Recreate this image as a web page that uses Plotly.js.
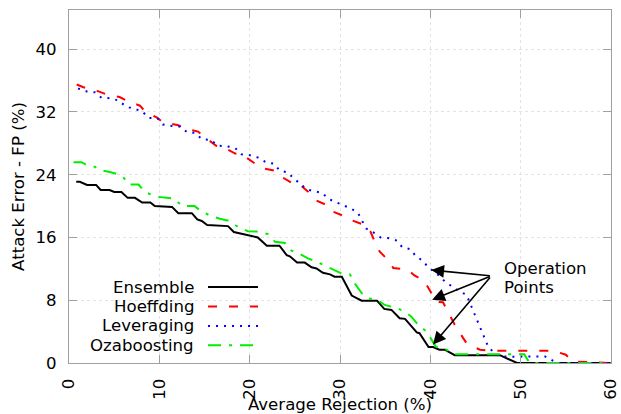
<!DOCTYPE html>
<html>
<head>
<meta charset="utf-8">
<script src="https://cdn.plot.ly/plotly-3.0.1.min.js"></script>
<style>html,body{margin:0;padding:0;background:#fff;}#chart{width:621px;height:414px;}</style>
</head>
<body>
<div id="chart"></div>
<script>
var seriesNames = ["Ensemble", "Hoeffding", "Leveraging", "Ozaboosting"];

var ensembleX = [0.8,1.2,2.0,3.0,3.5,4.5,5.0,5.8,6.5,7.3,8.1,9.0,9.5,11.4,12.1,13.6,14.2,14.7,15.3,17.6,18.25,19.1,20.0,20.9,21.9,23.3,24.1,24.45,25.25,26.1,26.85,27.4,28.1,28.9,29.4,30.2,31.3,31.6,32.4,34.1,34.9,35.7,36.6,37.2,37.9,38.5,38.8,39.8,40.3,41.0,41.6,42.7,47.7,49.2,49.6,60];
var ensembleY = [23.1,23.1,22.7,22.7,22.05,22.05,21.8,21.8,21.05,21.05,20.45,20.45,20.0,19.9,19.1,19.1,18.3,18.1,17.6,17.45,16.7,16.5,16.26,16.0,14.95,14.95,13.75,13.6,12.8,12.8,12.2,12.05,11.5,11.3,11.0,11.0,8.6,8.45,7.95,7.95,6.9,6.77,5.7,5.63,4.65,3.9,3.8,2.03,2.03,1.7,1.7,1.0,1.0,0.2,0,0];

var hoeffdingX = [0.85,1.6,3.2,4.0,5.6,6.4,7.85,8.4,9.7,10.4,12.1,12.8,14.3,15.0,16.3,17.1,18.4,19.1,20.5,21.2,22.8,23.3,24.6,25.4,26.7,27.2,28.6,29.1,30.5,31.3,32.7,33.4,34.0,34.4,35.5,35.9,37.5,38.2,39.3,39.8,40.7,41.4,42.1,42.7,43.4,44.0,44.7,45.5,46.6,53.6,55.0,55.8,60];
var hoeffdingY = [35.5,35.15,34.65,34.3,33.9,33.45,32.8,32.1,31.3,30.7,30.3,29.9,29.5,28.8,27.7,27.5,26.7,26.6,25.5,24.9,24.5,23.9,23.0,22.9,21.6,20.8,20.1,19.35,18.7,18.2,17.6,16.7,15.0,14.2,12.9,12.1,11.9,11.2,10.5,9.5,7.8,7.75,6.1,4.87,3.6,2.54,2.1,1.69,1.56,1.56,1.05,0.2,0];

var leveragingX = [1.0,2.0,2.9,3.6,4.6,5.5,6.3,7.2,8.1,8.8,9.8,10.4,11.4,12.3,13.1,13.9,14.75,15.7,16.5,17.4,18.4,19.1,20.0,20.9,21.8,22.7,23.3,24.2,24.9,25.55,26.3,27.1,28.0,28.75,29.6,30.45,31.3,32.0,32.5,32.9,33.7,34.5,35.4,36.3,36.9,37.8,38.4,39.1,39.7,40.3,41.0,41.6,42.5,43.25,44.0,44.4,44.8,45.2,45.65,46.0,46.4,46.9,47.7,49.0,50.6,51.7,52.7,53.4,54.0,60];
var leveragingY = [35.0,34.6,34.5,33.8,33.75,33.45,32.7,32.4,32.1,31.25,31.2,30.4,30.2,30.15,29.4,29.35,28.5,28.46,27.7,27.65,27.4,26.6,26.5,26.2,25.6,25.4,24.55,24.3,23.5,22.9,22.15,21.9,21.7,20.9,20.45,20.0,19.65,19.1,18.1,17.15,16.65,16.0,15.9,15.6,14.75,14.5,13.6,13.1,12.3,11.8,11.1,10.4,9.7,9.1,8.7,7.6,6.56,5.5,4.23,3.2,2.1,1.48,0.84,0.8,0.8,0.84,0.84,0.4,0,0];

var ozaboostingX = [0.5,1.4,2.0,2.9,3.1,3.8,4.5,5.3,6.0,6.6,7.7,8.4,9.7,10.6,11.7,12.5,13.9,14.7,15.8,16.7,17.8,18.7,19.8,20.8,22.0,22.8,23.9,24.6,25.4,26.5,27.5,28.3,29.35,30.2,31.1,31.6,32.4,33.1,34.2,34.95,36.25,37.2,37.9,38.7,39.6,40.1,40.6,41.8,42.7,48.8,50.4,51.0,60];
var ozaboostingY = [25.6,25.6,25.2,25.0,24.8,24.5,24.35,24.1,23.7,22.75,22.75,21.8,21.2,21.05,20.95,20.0,20.0,19.3,18.7,18.4,18.1,17.35,16.8,16.75,16.45,15.45,15.3,14.35,14.0,13.3,12.9,12.4,11.85,11.4,11.3,10.2,8.9,8.25,8.0,7.4,7.0,6.56,5.9,4.8,4.0,2.96,2.1,1.7,1.1,1.1,1.1,0,0];

var xTicks = [0,10,20,30,40,50,60];
var yTicks = [0,8,16,24,32,40];

// operation points: [x, y]
var opPointsX = [40.1, 40.2, 40.3];
var opPointsY = [11.85, 8.05, 2.35];
var opLabelX = 46.75, opLabelY = 11.1;
var opText = ["Operation", "Points"];

var colors = ["#000000", "#ff0000", "#0000ff", "#00ee00"];
var dashes = ["solid", "9px,12px", "2px,6px", "13px,8px,3px,8px"];
var widths = [2, 2, 2, 2];

var xs = [ensembleX, hoeffdingX, leveragingX, ozaboostingX];
var ys = [ensembleY, hoeffdingY, leveragingY, ozaboostingY];

var font = "DejaVu Sans, sans-serif";
var fs = 16.6;
var traces = [];
for (var i = 0; i < 4; i++) {
  traces.push({
    x: xs[i], y: ys[i], type: "scatter", mode: "lines", name: seriesNames[i],
    line: {color: colors[i], width: widths[i], dash: dashes[i]},
    showlegend: false, hoverinfo: "skip"
  });
}

var annotations = [];
var shapes = [];
// custom legend (gnuplot-style: text then sample)
var legY = [0.215, 0.160, 0.105, 0.050];
for (var i = 0; i < 4; i++) {
  annotations.push({
    xref: "paper", yref: "paper", x: 0.2343, y: legY[i], xanchor: "right", yanchor: "middle",
    text: seriesNames[i], showarrow: false, font: {family: font, size: fs, color: "#000"}
  });
  shapes.push({
    type: "line", xref: "paper", yref: "paper", x0: 0.2565, x1: 0.3487, y0: legY[i], y1: legY[i],
    line: {color: colors[i], width: widths[i], dash: dashes[i]}
  });
}
// arrows
for (var j = 0; j < opPointsX.length; j++) {
  annotations.push({
    x: opPointsX[j], y: opPointsY[j], xref: "x", yref: "y",
    ax: opLabelX, ay: opLabelY, axref: "x", ayref: "y",
    text: "", showarrow: true, arrowhead: 2, arrowsize: 1.6, arrowwidth: 1.6, arrowcolor: "#000",
    standoff: 0, startstandoff: 0
  });
}
annotations.push({
  x: 47.9, y: 12.0, xref: "x", yref: "y", xanchor: "left", yanchor: "middle",
  text: opText[0], showarrow: false, font: {family: font, size: fs, color: "#000"}
});
annotations.push({
  x: 47.9, y: 9.6, xref: "x", yref: "y", xanchor: "left", yanchor: "middle",
  text: opText[1], showarrow: false, font: {family: font, size: fs, color: "#000"}
});

var axisCommon = {
  showline: true, linecolor: "#a0a0a0", linewidth: 1, mirror: "allticks",
  ticks: "inside", ticklen: 8, tickcolor: "#a0a0a0", tickwidth: 1,
  showgrid: true, gridcolor: "#e3e3e3", griddash: "dot", gridwidth: 1,
  zeroline: false, tickfont: {family: font, size: fs, color: "#000"},
  automargin: false, ticklabelstandoff: 8
};

var layout = {
  width: 621, height: 414,
  margin: {l: 69, r: 10, t: 10, b: 51},
  paper_bgcolor: "#fff", plot_bgcolor: "#fff",
  font: {family: font, size: fs, color: "#000"},
  xaxis: Object.assign({}, axisCommon, {
    range: [0, 60], tickvals: xTicks, ticktext: xTicks.map(String), tickangle: -90,
    title: {text: "Average Rejection (%)", font: {family: font, size: fs, color: "#000"}, standoff: 4}
  }),
  yaxis: Object.assign({}, axisCommon, {
    range: [0, 45], tickvals: yTicks, ticktext: yTicks.map(String),
    title: {text: "Attack Error - FP (%)", font: {family: font, size: fs, color: "#000"}, standoff: 6}
  }),
  annotations: annotations,
  shapes: shapes
};

Plotly.newPlot("chart", traces, layout, {staticPlot: true, displayModeBar: false});
</script>
</body>
</html>
